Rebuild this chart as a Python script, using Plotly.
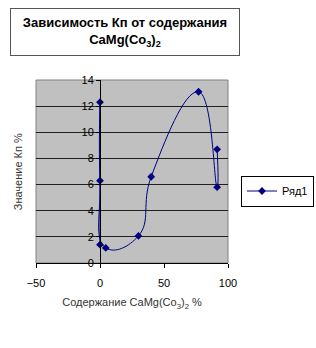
import plotly.graph_objects as go

x_vals = [0, 0, 0, 4.5, 30, 40, 77, 91.5, 91.5]
y_vals = [1.4, 12.3, 6.3, 1.15, 2.07, 6.6, 13.1, 5.8, 8.7]
series_name = "Ряд1"
title_text = "<b>Зависимость Кп от содержания<br>CaMg(Co<sub>3</sub>)<sub>2</sub></b>"
x_title = "Содержание CaMg(Co<sub>3</sub>)<sub>2</sub> %"
y_title = "Значение Кп %"

NAVY = "#000080"
FONT = "Liberation Sans, Arial, sans-serif"

fig = go.Figure()
fig.add_trace(go.Scatter(
    x=x_vals, y=y_vals, name=series_name, mode="lines+markers",
    line=dict(color=NAVY, width=1, shape="spline", smoothing=1.3),
    marker=dict(symbol="diamond", size=6, color=NAVY),
    showlegend=True,
))

fig.update_layout(
    width=316, height=348,
    margin=dict(l=36, r=88, t=80, b=85, autoexpand=False),
    paper_bgcolor="white", plot_bgcolor="#C0C0C0",
    font=dict(family=FONT, size=11, color="black"),
    xaxis=dict(
        range=[-50, 100], tickvals=[-50, 0, 50, 100], showgrid=False, zeroline=False,
        showline=True, linecolor="black", linewidth=1, ticks="outside", ticklen=4,
        tickcolor="black", tickfont=dict(size=11, color="black"),
        ticklabelstandoff=6,
        title=dict(text=x_title, font=dict(size=11, color="#333"), standoff=10),
        fixedrange=True, automargin=False,
    ),
    yaxis=dict(
        range=[0, 14], dtick=2, showgrid=True, gridcolor="#202020", gridwidth=1,
        zeroline=False, showline=True, linecolor="black", linewidth=1,
        ticks="outside", ticklen=4, tickcolor="black",
        anchor="free", position=1/3,
        tickfont=dict(size=11, color="black"),
        fixedrange=True, automargin=False,
    ),
    legend=dict(
        xref="container", yref="container",
        x=241/316, y=1 - 191/348, xanchor="left", yanchor="middle",
        bordercolor="black", borderwidth=1, bgcolor="white",
        font=dict(size=11, color="black"), itemwidth=30,
    ),
    showlegend=True,
)

fig.add_annotation(
    text=y_title, xref="paper", yref="paper", x=-0.095, y=0.5,
    textangle=-90, showarrow=False, font=dict(size=11, color="#333"),
    xanchor="center", yanchor="middle",
)
fig.add_annotation(
    text=title_text, xref="paper", yref="paper", x=0.4635, y=1.262,
    xanchor="center", yanchor="middle", showarrow=False,
    font=dict(size=13, color="black"), align="center",
    bordercolor="#555", borderwidth=1, borderpad=3, bgcolor="white",
    width=222, height=40,
)
fig.add_shape(type="rect", xref="paper", yref="paper", x0=0, x1=1, y0=0, y1=1,
              line=dict(color="#808080", width=1), layer="below")

fig.write_html("out.html")
